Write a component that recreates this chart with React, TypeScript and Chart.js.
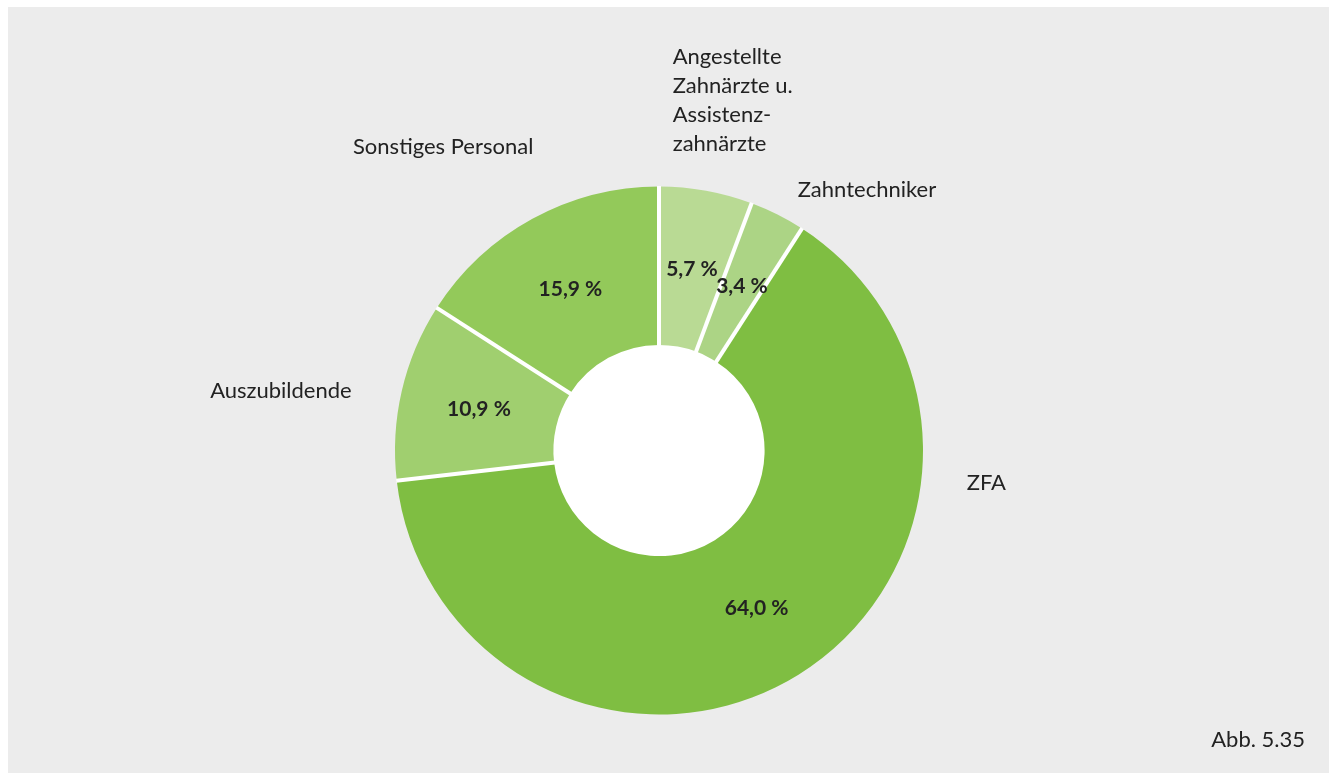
import React, { useEffect, useRef } from "react";
import { Chart, registerables } from "chart.js";

Chart.register(...registerables);

// ---- data ----
const categories = [
  "Angestellte Zahnärzte u. Assistenzzahnärzte",
  "Zahntechniker",
  "ZFA",
  "Auszubildende",
  "Sonstiges Personal",
];
const categoryLines = [
  ["Angestellte", "Zahnärzte u.", "Assistenz-", "zahnärzte"],
  ["Zahntechniker"],
  ["ZFA"],
  ["Auszubildende"],
  ["Sonstiges Personal"],
];
const shares = [5.7, 3.4, 64.0, 10.9, 15.9];
const shareLabels = ["5,7 %", "3,4 %", "64,0 %", "10,9 %", "15,9 %"];
const caption = "Abb. 5.35";

// ---- styles / layout ----
const sliceColors = ["#b9da94", "#acd485", "#7fbe42", "#a0cf6f", "#93c95a"];
const BG = "#ececec";
const TEXT = "#222222";
const FONT = "Lato";
// outer label placement relative to the doughnut centre (first baseline)
const outerLabelLayout = [
  { dx: 13.7, dy: -386.2, align: "left" },
  { dx: 138.7, dy: -253.8, align: "left" },
  { dx: 307.7, dy: 39.5, align: "left" },
  { dx: -307.3, dy: -52.2, align: "right" },
  { dx: -306, dy: -296.2, align: "left" },
];
const LINE_HEIGHT = 29;
const SEPARATOR_WIDTH = 4;

const W = 1321;
const H = 766;

const labelPlugin = {
  id: "labelPlugin",
  beforeDatasetsDraw(chart: any) {
    const meta = chart.getDatasetMeta(0);
    const arc = meta.data[0];
    if (!arc) return;
    const { x, y, innerRadius } = arc.getProps(["x", "y", "innerRadius"], true);
    const ctx = chart.ctx;
    ctx.save();
    ctx.fillStyle = "#ffffff";
    ctx.beginPath();
    ctx.arc(x, y, innerRadius + 1, 0, Math.PI * 2);
    ctx.fill();
    ctx.restore();
  },
  afterDatasetsDraw(chart: any) {
    const meta = chart.getDatasetMeta(0);
    const ctx = chart.ctx;
    ctx.save();
    // white separators between slices
    ctx.strokeStyle = "#ffffff";
    ctx.lineWidth = SEPARATOR_WIDTH;
    ctx.lineCap = "butt";
    meta.data.forEach((el: any) => {
      const p = el.getProps(["x", "y", "startAngle", "innerRadius", "outerRadius"], true);
      const a = p.startAngle;
      ctx.beginPath();
      ctx.moveTo(p.x + Math.cos(a) * (p.innerRadius - 1), p.y + Math.sin(a) * (p.innerRadius - 1));
      ctx.lineTo(p.x + Math.cos(a) * (p.outerRadius + 0.5), p.y + Math.sin(a) * (p.outerRadius + 0.5));
      ctx.stroke();
    });

    ctx.fillStyle = TEXT;
    meta.data.forEach((el: any, i: number) => {
      const p = el.getProps(
        ["x", "y", "startAngle", "endAngle", "innerRadius", "outerRadius"],
        true
      );
      const mid = (p.startAngle + p.endAngle) / 2;
      const r = (p.innerRadius + p.outerRadius) / 2;
      ctx.font = `bold 21px ${FONT}`;
      ctx.textAlign = "center";
      ctx.textBaseline = "alphabetic";
      ctx.fillText(shareLabels[i], p.x + Math.cos(mid) * r, p.y + Math.sin(mid) * r + 7.5);

      const lay = outerLabelLayout[i];
      ctx.font = `22px ${FONT}`;
      ctx.textAlign = lay.align;
      categoryLines[i].forEach((line, j) => {
        ctx.fillText(line, p.x + lay.dx, p.y + lay.dy + j * LINE_HEIGHT);
      });
    });
    ctx.font = `22px ${FONT}`;
    ctx.textAlign = "right";
    ctx.fillText(caption, chart.width - 24, chart.height - 26);
    ctx.restore();
  },
};

export default function App() {
  const ref = useRef<HTMLCanvasElement | null>(null);
  useEffect(() => {
    if (!ref.current) return;
    const chart = new Chart(ref.current, {
      type: "doughnut",
      data: {
        labels: categories,
        datasets: [
          {
            data: shares,
            backgroundColor: sliceColors,
            borderWidth: 0,
          } as any,
        ],
      },
      options: {
        responsive: false,
        animation: false,
        radius: 264,
        cutout: "40%",
        layout: { padding: { top: 121, right: 19, left: 0, bottom: 0 } },
        plugins: {
          legend: { display: false },
          tooltip: { enabled: false },
        },
      } as any,
      plugins: [labelPlugin],
    });
    return () => chart.destroy();
  }, []);
  return (
    <div
      style={{
        position: "fixed",
        left: 8,
        top: 7,
        width: W,
        height: H,
        background: BG,
      }}
    >
      <canvas ref={ref} width={W} height={H} style={{ display: "block" }} />
    </div>
  );
}
